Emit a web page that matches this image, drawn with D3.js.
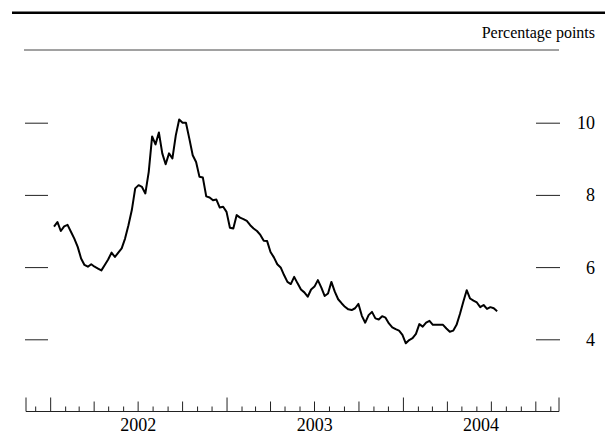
<!DOCTYPE html>
<html>
<head>
<meta charset="utf-8">
<script src="https://cdn.jsdelivr.net/npm/d3@7/dist/d3.min.js"></script>
<style>
  html, body { margin: 0; padding: 0; background: #fff; }
  svg { display: block; }
  text { font-family: "Liberation Serif", "Times New Roman", serif; fill: #000; }
</style>
</head>
<body>
<svg id="chart" width="605" height="436"></svg>
<script>
// Weekly spread, percentage points, first week of Jan 2002 through mid-2004
const firstWeek = new Date(2002, 0, 9);
const spreadValues = [
  7.12, 7.25, 7.00, 7.13, 7.17, 6.98, 6.79, 6.56, 6.24, 6.06,
  6.01, 6.08, 6.01, 5.96, 5.91, 6.06, 6.21, 6.40, 6.28, 6.40,
  6.52, 6.79, 7.16, 7.58, 8.18, 8.27, 8.22, 8.04, 8.64, 9.62,
  9.40, 9.73, 9.15, 8.85, 9.15, 9.01, 9.65, 10.09, 10.00, 10.00,
  9.56, 9.10, 8.91, 8.50, 8.48, 7.96, 7.93, 7.85, 7.87, 7.65,
  7.67, 7.53, 7.09, 7.07, 7.44, 7.37,
  7.33, 7.28, 7.16, 7.07, 7.00, 6.89, 6.73, 6.72, 6.42, 6.27,
  6.08, 5.99, 5.78, 5.59, 5.53, 5.73, 5.55, 5.38, 5.30, 5.18,
  5.38, 5.46, 5.64, 5.44, 5.20, 5.27, 5.59, 5.32, 5.11, 5.00,
  4.90, 4.83, 4.81, 4.86, 4.98, 4.65, 4.46, 4.67, 4.76, 4.58,
  4.55, 4.64,
  4.60, 4.44, 4.33, 4.28, 4.24, 4.12, 3.89, 3.98, 4.03, 4.15,
  4.42, 4.35, 4.46, 4.51, 4.40, 4.40, 4.40, 4.40, 4.30, 4.21,
  4.24, 4.40, 4.70, 5.04, 5.36, 5.13, 5.07, 5.02, 4.89, 4.95,
  4.84, 4.89, 4.86, 4.78
];
const yTickValues = [4, 6, 8, 10];
const yearLabels = ["2002", "2003", "2004"];
const unitLabel = "Percentage points";

const series = spreadValues.map((v, i) => ({ date: d3.timeWeek.offset(firstWeek, i), value: v }));

const svg = d3.select("#chart");
const axisStart = new Date(2001, 10, 12);
const axisEnd = new Date(2004, 10, 19);
const left = 26, right = 559, baseY = 411.5;

const x = d3.scaleTime().domain([axisStart, axisEnd]).range([left, right]);
const y = d3.scaleLinear().domain([4, 10]).range([339.3, 122.7]);

// Heavy rule along the top and thin rule under the unit label
svg.append("line").attr("x1", 12).attr("x2", 605).attr("y1", 12.75).attr("y2", 12.75)
  .attr("stroke", "#000").attr("stroke-width", 2.5);
svg.append("line").attr("x1", 24).attr("x2", 559).attr("y1", 50).attr("y2", 50)
  .attr("stroke", "#444").attr("stroke-width", 1);
svg.append("text").attr("x", 595).attr("y", 38).attr("text-anchor", "end")
  .attr("font-size", 16).text(unitLabel);

// Left value ticks (no labels)
const yLeft = d3.axisLeft(y).tickValues(yTickValues).tickSize(23).tickFormat("");
svg.append("g").attr("transform", "translate(48,0)").call(yLeft)
  .call(g => g.select(".domain").remove())
  .call(g => g.selectAll(".tick line").attr("stroke", "#222"));

// Right value ticks with labels
const yRight = d3.axisRight(y).tickValues(yTickValues).tickSize(24).tickFormat(d3.format("d"));
svg.append("g").attr("transform", "translate(536,0)").call(yRight)
  .call(g => g.select(".domain").remove())
  .call(g => g.selectAll(".tick line").attr("stroke", "#222"))
  .call(g => g.selectAll(".tick text")
    .attr("x", 59).attr("dy", null).attr("y", 6)
    .attr("text-anchor", "end")
    .attr("font-family", "Liberation Serif, Times New Roman, serif")
    .attr("font-size", 18).attr("fill", "#000"));

// Time axis: monthly ticks, taller at quarters and years
const months = d3.timeMonth.range(d3.timeMonth.ceil(axisStart), axisEnd);
const xAxis = d3.axisTop(x).tickValues(months).tickSizeOuter(0).tickFormat("")
  .tickSizeInner(5);
const gx = svg.append("g").attr("transform", `translate(0,${baseY})`).call(xAxis);
gx.select(".domain").attr("d", `M${left},0H${right}`).attr("stroke", "#222");
gx.selectAll(".tick line")
  .attr("stroke", "#222")
  .attr("y2", d => d.getMonth() === 0 ? -14 : (d.getMonth() % 3 === 0 ? -10 : -5));
// End caps of the time axis
[axisStart, axisEnd].forEach(d => {
  gx.append("line").attr("x1", x(d)).attr("x2", x(d)).attr("y1", 0).attr("y2", -14)
    .attr("stroke", "#222");
});

// Year labels centred on the visible part of each year
yearLabels.forEach(lbl => {
  const yr = +lbl;
  const a = d3.max([new Date(yr, 0, 1), axisStart]);
  const b = d3.min([new Date(yr + 1, 0, 1), axisEnd]);
  svg.append("text").attr("x", (x(a) + x(b)) / 2).attr("y", 431)
    .attr("text-anchor", "middle").attr("font-size", 18).text(lbl);
});

// Spread line
const line = d3.line().x(d => x(d.date)).y(d => y(d.value));
svg.append("path").datum(series).attr("d", line)
  .attr("fill", "none").attr("stroke", "#000").attr("stroke-width", 2)
  .attr("stroke-linejoin", "round");
</script>
</body>
</html>
